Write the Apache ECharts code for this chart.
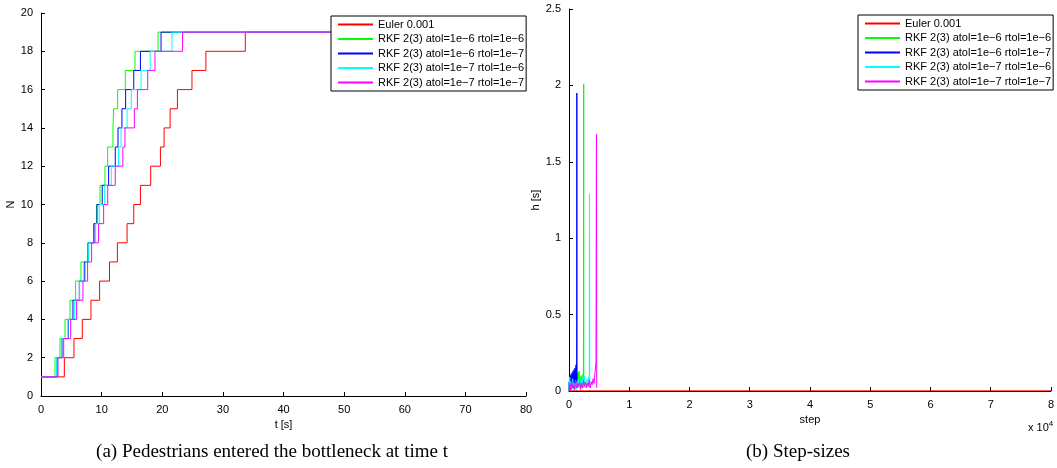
<!DOCTYPE html>
<html>
<head>
<meta charset="utf-8">
<script src="https://cdn.jsdelivr.net/npm/echarts@6/dist/echarts.min.js"></script>
<style>
html,body{margin:0;padding:0;background:#fff;}
#chart{width:1057px;height:468px;}
</style>
</head>
<body>
<div id="chart"></div>
<script>
// ---- Left panel: N entered vs time t [s] (time at which N reaches each level)
const N_LEVELS = [1,2,3,4,5,6,7,8,9,10,11,12,13,14,15,16,17,18,19];
const T_END = 80;
const tEuler = [0,3.85,5.44,6.81,8.24,9.67,11.3,12.6,14.2,15.3,16.4,18.1,19.7,20.3,21.3,22.5,24.9,27.2,33.7];
const tRkf66 = [0,2.31,3.13,3.96,4.78,5.71,6.59,7.69,8.68,9.18,9.73,10.55,10.99,11.87,11.98,12.64,13.9,15.5,19.3];
const tRkf67 = [0,2.64,3.46,4.5,5.27,6.32,7.14,7.8,8.74,9.23,10.1,11.15,12.25,12.7,13.35,13.96,15.3,16.4,19.8];
const tRkf76 = [0,2.58,3.35,4.45,5.55,6.37,7.31,7.86,9.0,9.6,10.5,11.6,12.8,13.2,14.2,14.9,16.5,18.0,21.6];
const tRkf77 = [0,2.8,3.74,4.89,5.88,6.92,7.69,8.35,9.5,10.33,11.0,12.25,13.5,13.85,15.4,15.9,17.6,18.8,23.35];

// ---- Right panel: step size h [s] vs step index
const stepsEuler = [0,80000];
const hEuler = [0.001,0.001];
const stepsRkf66 = [0,80,160,240,320,400,480,560,640,720,800,880,960,1040,1120,1200,1280,1360,1440,1520,1600,1680,1760,1840,1920,2000,2080,2160,2240,2320,2400,2420,2440,2460];
const hRkf66 = [0.002,0.09,0.02,0.07,0.01,0.08,0.03,0.06,0.02,0.09,0.01,0.07,0.03,0.08,0.02,0.06,0.04,0.1,0.02,0.12,0.03,0.13,0.05,0.08,0.02,0.1,0.04,0.09,0.03,0.11,0.06,1.05,2.01,0.02];
const stepsRkf67 = [0,40,80,120,160,200,240,280,320,360,400,440,480,520,560,600,640,680,720,760,800,840,880,920,960,1000,1040,1080,1120,1160,1200,1240,1280,1300,1320];
const hRkf67 = [0.002,0.06,0.01,0.08,0.02,0.1,0.01,0.07,0.03,0.11,0.02,0.09,0.04,0.12,0.02,0.1,0.03,0.13,0.04,0.1,0.02,0.14,0.05,0.11,0.03,0.15,0.05,0.12,0.04,0.17,0.06,0.18,0.07,1.95,0.03];
const stepsRkf76 = [0,120,240,360,480,600,720,840,960,1080,1200,1320,1440,1560,1680,1800,1920,2040,2160,2280,2400,2520,2640,2760,2880,3000,3120,3240,3360,3410,3440];
const hRkf76 = [0.002,0.09,0.02,0.06,0.01,0.08,0.03,0.05,0.02,0.07,0.01,0.06,0.03,0.08,0.02,0.05,0.04,0.07,0.02,0.09,0.03,0.1,0.04,0.06,0.02,0.08,0.03,0.09,0.05,1.29,0.02];
const stepsRkf77 = [0,160,320,480,640,800,960,1120,1280,1440,1600,1760,1920,2080,2240,2400,2560,2720,2880,3040,3200,3360,3520,3680,3840,4000,4160,4320,4480,4530,4560,4600];
const hRkf77 = [0.002,0.05,0.01,0.06,0.02,0.04,0.01,0.07,0.02,0.05,0.03,0.06,0.01,0.05,0.02,0.07,0.03,0.06,0.02,0.05,0.03,0.07,0.02,0.06,0.04,0.08,0.05,0.12,0.19,1.16,1.68,0.02];

const NAMES = ['Euler 0.001','RKF 2(3) atol=1e\u22126 rtol=1e\u22126','RKF 2(3) atol=1e\u22126 rtol=1e\u22127','RKF 2(3) atol=1e\u22127 rtol=1e\u22126','RKF 2(3) atol=1e\u22127 rtol=1e\u22127'];
const COLORS = ['#ff0000','#00ff00','#0000ff','#00ffff','#ff00ff'];

function stairs(times){ const d = times.map((t,i)=>[t,N_LEVELS[i]]); d.push([T_END,N_LEVELS[N_LEVELS.length-1]]); return d; }
function pairs(xs,ys){ return xs.map((x,i)=>[x,ys[i]]); }

const FONT = 'Liberation Sans, Arial, sans-serif';
const SERIF = 'Liberation Serif, Times New Roman, serif';
const axisCommon = {
  axisLine:{show:true,lineStyle:{color:'#000',width:1}},
  axisTick:{show:true,inside:true,length:4,lineStyle:{color:'#000'}},
  axisLabel:{color:'#000',fontSize:11,fontFamily:FONT},
  splitLine:{show:false},
  nameTextStyle:{color:'#000',fontSize:11,fontFamily:FONT}
};

const leftSets = [tEuler,tRkf66,tRkf67,tRkf76,tRkf77];
const rightSets = [[stepsEuler,hEuler],[stepsRkf66,hRkf66],[stepsRkf67,hRkf67],[stepsRkf76,hRkf76],[stepsRkf77,hRkf77]];

const series = [];
leftSets.forEach((t,i)=>series.push({name:NAMES[i],type:'line',step:'end',xAxisIndex:0,yAxisIndex:0,data:stairs(t),symbol:'none',lineStyle:{color:COLORS[i],width:1},itemStyle:{color:COLORS[i]},animation:false}));
rightSets.forEach((s,i)=>series.push({name:NAMES[i],type:'line',xAxisIndex:1,yAxisIndex:1,data:pairs(s[0],s[1]),symbol:'none',lineStyle:{color:COLORS[i],width:1},itemStyle:{color:COLORS[i]},animation:false}));

function legendData(){ return NAMES.map((n,i)=>({name:n,itemStyle:{color:COLORS[i],opacity:0},lineStyle:{color:COLORS[i],width:2,opacity:1}})); }
const legendCommon = {
  orient:'vertical', itemWidth:35, itemHeight:10, itemGap:3.5,
  textStyle:{color:'#000',fontSize:11,fontFamily:FONT},
  borderColor:'#000', borderWidth:1, backgroundColor:'#fff',
  padding:[3,2,3,6], selectedMode:false
};

const chart = echarts.init(document.getElementById('chart'),null,{renderer:'canvas'});
chart.setOption({
  backgroundColor:'#fff',
  animation:false,
  grid:[
    {left:41,top:13,width:485,height:383},
    {left:569,top:9,width:482,height:382}
  ],
  xAxis:[
    Object.assign({},axisCommon,{gridIndex:0,type:'value',min:0,max:80,interval:10,name:'t [s]',nameLocation:'middle',nameGap:17}),
    Object.assign({},axisCommon,{gridIndex:1,type:'value',min:0,max:80000,interval:10000,name:'step',nameLocation:'middle',nameGap:16,
      axisLabel:Object.assign({},axisCommon.axisLabel,{formatter:v=>String(v/10000)})})
  ],
  yAxis:[
    Object.assign({},axisCommon,{gridIndex:0,type:'value',min:0,max:20,interval:2,name:'N',nameLocation:'middle',nameGap:24}),
    Object.assign({},axisCommon,{gridIndex:1,type:'value',min:0,max:2.5,interval:0.5,name:'h [s]',nameLocation:'middle',nameGap:24})
  ],
  legend:[
    Object.assign({},legendCommon,{left:331,top:16,data:legendData()}),
    Object.assign({},legendCommon,{left:858,top:15,data:legendData()})
  ],
  graphic:[
    {type:'text',left:1028,top:420,style:{text:'{a|x 10}{b|4}',rich:{a:{fontSize:11,fontFamily:FONT,fill:'#000'},b:{fontSize:8,fontFamily:FONT,fill:'#000',verticalAlign:'top',padding:[0,0,8,0]}}}},
    {type:'text',x:272,y:452,style:{text:'(a) Pedestrians entered the bottleneck at time t',fontSize:19,fontFamily:SERIF,fill:'#000',align:'center',verticalAlign:'middle'}},
    {type:'text',x:798,y:452,style:{text:'(b) Step-sizes',fontSize:19,fontFamily:SERIF,fill:'#000',align:'center',verticalAlign:'middle'}}
  ],
  series:series
});
</script>
</body>
</html>
